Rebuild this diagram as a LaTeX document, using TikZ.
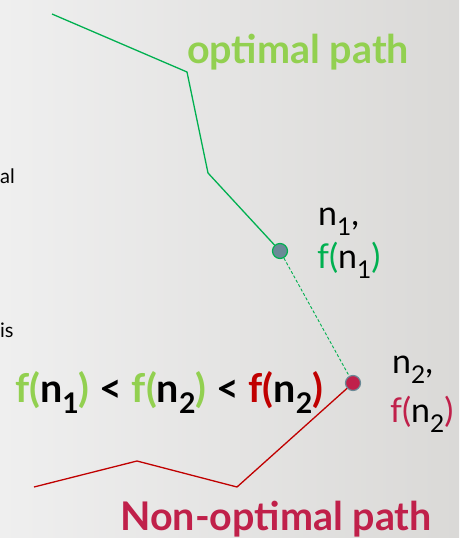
\documentclass[tikz,border=0pt]{standalone}
\usepackage{fontspec}
\setmainfont{Lato}
\definecolor{bgA}{HTML}{EFEFEF}
\definecolor{bgB}{HTML}{DAD9D7}
\definecolor{optgreen}{HTML}{00B050}
\definecolor{litegreen}{HTML}{92D050}
\definecolor{crimson}{HTML}{C0204A}
\definecolor{darkred}{HTML}{C00000}
\definecolor{nodegray}{HTML}{6A8A97}
\newcommand\mysub[1]{\raisebox{-0.3em}{\scalebox{0.72}{#1}}}
\begin{document}
\begin{tikzpicture}[x=1pt,y=-1pt,
  pathnode/.style={circle,inner sep=0pt,minimum size=15pt,line width=1.2pt},
  lbl/.style={inner sep=0pt,anchor=base west,font=\fontsize{34}{40}\selectfont},
  frag/.style={inner sep=0pt,anchor=base west,font=\fontsize{20}{24}\selectfont},
  big/.style={inner sep=0pt,anchor=base,font=\bfseries\fontsize{39.5}{46}\selectfont}]
\shade[shading angle=120,left color=bgA,right color=bgB] (0,0) rectangle (459,538);
\useasboundingbox (0,0) rectangle (459,538);
% fragments of left text
\node[frag] (fa) at (0,183) {al};
\node[frag] (fb) at (0,337) {is};
% nodes
\node[pathnode,fill=nodegray,draw=optgreen] (n1) at (280,251) {};
\node[pathnode,fill=crimson,draw=nodegray] (n2) at (353,383) {};
% optimal path
\coordinate (g0) at (52,14);
\coordinate (g1) at (187,72);
\coordinate (g2) at (208,173);
\draw[optgreen,line width=1.3pt,line join=round] (g0) -- (g1) -- (g2) -- (n1);
\draw[optgreen,line width=0.9pt,dash pattern=on 3pt off 2pt] (n1) -- (n2);
% non-optimal path
\coordinate (r1) at (237,487);
\coordinate (r2) at (137,461);
\coordinate (r3) at (34,487);
\draw[darkred,line width=1.3pt,line join=round] (n2) -- (r1) -- (r2) -- (r3);
% labels
\node[big,text=litegreen] (opt) at (298,63) {optimal path};
\node[big,text=crimson] (nonopt) at (276,530) {Non-optimal path};
\node[lbl] (l1a) at (318,225) {n\mysub{1},};
\node[lbl,text=optgreen] (l1b) at (317,268) {f(\textcolor{black}{n\mysub{1}})};
\node[lbl] (l2a) at (392,373) {n\mysub{2},};
\node[lbl,text=crimson] (l2b) at (390,422) {f(\textcolor{black}{n\mysub{2}})};
\node[big,anchor=base west,font=\bfseries\fontsize{39.5}{46}\selectfont] (ineq) at (15,402) {\textcolor{litegreen}{f(}n\mysub{1}\textcolor{litegreen}{)} < \textcolor{litegreen}{f(}n\mysub{2}\textcolor{litegreen}{)} < \textcolor{darkred}{f(}n\mysub{2}\textcolor{darkred}{)}};
\end{tikzpicture}
\end{document}
